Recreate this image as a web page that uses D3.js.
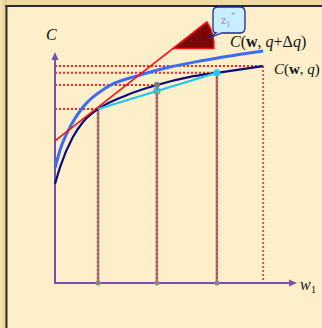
<!DOCTYPE html>
<meta charset="utf-8">
<script src="https://d3js.org/d3.v7.min.js"></script>
<style>
  body { margin: 0; }
  svg { display: block; }
</style>
<div id="chart"></div>
<script>
// cost curves, in data units (w1 on x, C on y)
const costQ   = [[0,4.29],[0.21,5.02],[0.74,6.32],[1.16,6.97],[1.78,7.53],[2.98,8.14],[4.21,8.57],[5.58,8.92],[6.69,9.10],[8.6,9.39]];
const costQdQ = [[0,4.98],[0.21,5.76],[0.62,6.75],[1.16,7.62],[2.15,8.48],[3.51,9.00],[4.75,9.35],[5.99,9.61],[7.23,9.83],[8.6,10.04]];
// tangent line at w1 = 1.78
const tangentLine = [[0,6.15],[6.28,11.30]];
// chosen w1 values and their cost levels
const wPoints = [1.78, 4.21, 6.69, 8.6];
const cLevels = [7.53, 8.57, 9.10, 9.39];
// chord between first and third points
const chord = [[1.78,7.53],[6.69,9.10]];
const chordMid = [4.21, 8.31];

const W = 322, H = 328;
const x = d3.scaleLinear().domain([0,10]).range([55,297]);
const y = d3.scaleLinear().domain([0,10]).range([283,52]);

const svg = d3.select("#chart").append("svg")
  .attr("width", W).attr("height", H)
  .style("font-family", "'Liberation Serif', 'Times New Roman', serif");

const defs = svg.append("defs");
const frameGrad = defs.append("linearGradient").attr("id","frameGrad");
frameGrad.append("stop").attr("offset","0%").attr("stop-color","#f6e6b6");
frameGrad.append("stop").attr("offset","100%").attr("stop-color","#e2c679");
const checker = defs.append("pattern").attr("id","checker")
  .attr("width",3).attr("height",3).attr("patternUnits","userSpaceOnUse");
checker.append("rect").attr("width",3).attr("height",3).attr("fill","#4a0000");
checker.append("rect").attr("width",1.5).attr("height",1.5).attr("fill","#a80000");
checker.append("rect").attr("x",1.5).attr("y",1.5).attr("width",1.5).attr("height",1.5).attr("fill","#a80000");

// frame + panel
svg.append("rect").attr("width",W).attr("height",H).attr("fill","#eed9a0");
svg.append("rect").attr("width",7).attr("height",H).attr("fill","url(#frameGrad)");
svg.append("rect").attr("x",7).attr("y",7).attr("width",W-7).attr("height",H-7).attr("fill","#fdefca");
svg.append("line").attr("x1",6.5).attr("x2",6.5).attr("y1",5).attr("y2",H).attr("stroke","#2b2b2b").attr("stroke-width",2);
svg.append("line").attr("x1",5.5).attr("x2",W).attr("y1",6).attr("y2",6).attr("stroke","#2b2b2b").attr("stroke-width",2);

// drop lines
wPoints.forEach(function(w, i) {
  if (i < 3) {
    svg.append("line")
      .attr("x1",x(w)).attr("x2",x(w)).attr("y1",y(cLevels[i])).attr("y2",y(0))
      .attr("stroke","#888").attr("stroke-width",2.5);
  }
  svg.append("line")
    .attr("x1",x(w)).attr("x2",x(w)).attr("y1",y(cLevels[i])).attr("y2",y(0))
    .attr("stroke","#ff2020").attr("stroke-width",1.5).attr("stroke-dasharray","2,2");
  svg.append("line")
    .attr("x1",x(0)).attr("x2",x(w)).attr("y1",y(cLevels[i])).attr("y2",y(cLevels[i]))
    .attr("stroke","#ff2020").attr("stroke-width",2).attr("stroke-dasharray","2,2");
});

// axes
const axisColor = "#7b4fae";
svg.append("line").attr("x1",x(0)).attr("x2",x(0)).attr("y1",y(0)+1).attr("y2",y(10)+5)
  .attr("stroke",axisColor).attr("stroke-width",2);
svg.append("line").attr("x1",x(0)-1).attr("x2",x(10)-5).attr("y1",y(0)).attr("y2",y(0))
  .attr("stroke",axisColor).attr("stroke-width",2);
svg.append("path").attr("d",`M${x(0)},${y(10)} l-3.5,8 l7,0 Z`).attr("fill",axisColor);
svg.append("path").attr("d",`M${x(10)},${y(0)} l-8,-3.5 l0,7 Z`).attr("fill",axisColor);

const line = d3.line().x(d => x(d[0])).y(d => y(d[1]));
const curve = d3.line().x(d => x(d[0])).y(d => y(d[1])).curve(d3.curveMonotoneX);

svg.append("path").attr("d", curve(costQdQ)).attr("fill","none")
  .attr("stroke","#3d6cf2").attr("stroke-width",3);
svg.append("path").attr("d", curve(costQ)).attr("fill","none")
  .attr("stroke","#0b0b7a").attr("stroke-width",2.2);
svg.append("path").attr("d", line(tangentLine)).attr("fill","none")
  .attr("stroke","#ff1010").attr("stroke-width",1.6);
svg.append("path").attr("d", line(chord)).attr("fill","none")
  .attr("stroke","#1ec6f2").attr("stroke-width",2.2);

// angle wedge on the tangent line
const slope = (tangentLine[1][1]-tangentLine[0][1])/(tangentLine[1][0]-tangentLine[0][0]);
const cx = x(4.88), cy = y(tangentLine[0][1] + slope*4.88);
const tx = x(tangentLine[1][0]), ty = y(tangentLine[1][1]);
const r = Math.hypot(tx-cx, ty-cy);
svg.append("path")
  .attr("d", `M${cx},${cy} L${tx},${ty} A${r},${r} 0 0 1 ${cx+r*0.95},${cy} Z`)
  .attr("fill","url(#checker)").attr("stroke","#ff1010").attr("stroke-width",1.5);

// markers
wPoints.slice(0,3).forEach(function(w) {
  svg.append("circle").attr("cx",x(w)).attr("cy",y(0)).attr("r",2.5).attr("fill","#888");
});
svg.append("circle").attr("cx",x(chordMid[0])).attr("cy",y(cLevels[1])).attr("r",3).attr("fill","#777");
svg.append("circle").attr("cx",x(chordMid[0])).attr("cy",y(chordMid[1])).attr("r",3)
  .attr("fill","none").attr("stroke","#5aa").attr("stroke-width",1.2);
svg.append("circle").attr("cx",x(chord[1][0])).attr("cy",y(chord[1][1])).attr("r",3.5).attr("fill","#22c8f4");

// callout
svg.append("path")
  .attr("d","M218,7 H240 Q245,7 245,12 V28 Q245,33 240,33 H222 L209,38 L216,33 Q213,33 213,28 V12 Q213,7 218,7 Z")
  .attr("fill","#c9efff").attr("stroke","#1c2a94").attr("stroke-width",1.3);
const zt = svg.append("text").attr("x",221).attr("y",24).attr("fill","#9a86c4").style("font-size","12px");
zt.append("tspan").text("z");
zt.append("tspan").attr("dy",3).style("font-size","8px").text("1");
zt.append("tspan").attr("dy",-9).attr("dx",1).style("font-size","8px").text("*");

// labels
function costLabel(xp, yp, size, extra) {
  const t = svg.append("text").attr("x",xp).attr("y",yp).attr("fill","#111").style("font-size",size);
  t.append("tspan").style("font-style","italic").text("C");
  t.append("tspan").text("(");
  t.append("tspan").style("font-weight","bold").text("w");
  t.append("tspan").text(", ");
  t.append("tspan").style("font-style","italic").text("q");
  if (extra) {
    t.append("tspan").text("+Δ");
    t.append("tspan").style("font-style","italic").text("q");
  }
  t.append("tspan").text(")");
}
costLabel(230, 47, "16px", true);
costLabel(274, 74, "15px", false);

svg.append("text").attr("x",46).attr("y",40).attr("fill","#111")
  .style("font-size","16px").style("font-style","italic").text("C");
const wl = svg.append("text").attr("x",300).attr("y",290).attr("fill","#111").style("font-size","16px");
wl.append("tspan").style("font-style","italic").text("w");
wl.append("tspan").attr("dy",3).style("font-size","11px").text("1");
</script>
